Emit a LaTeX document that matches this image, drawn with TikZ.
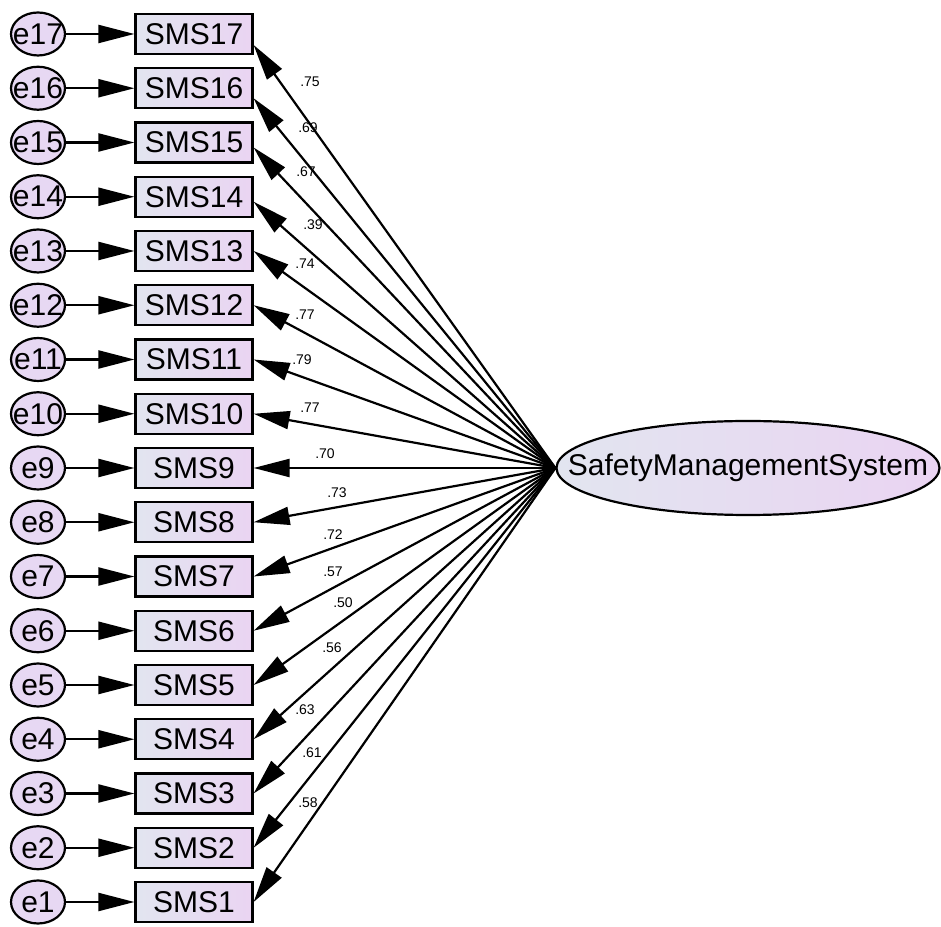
\documentclass[tikz,border=0pt]{standalone}
\usepackage{fontspec}
\setmainfont{Liberation Sans}
\usetikzlibrary{arrows.meta,shapes.geometric}
\definecolor{boxleft}{RGB}{226,229,240}
\definecolor{boxright}{RGB}{234,212,242}
\definecolor{errfill}{RGB}{231,216,243}
\begin{document}
\begin{tikzpicture}[x=0.5pt,y=0.5pt,
        obs/.style={draw, line width=1.1pt, left color=boxleft, right color=boxright,
            minimum width=58.5pt, minimum height=20pt, inner sep=0pt,
            font=\fontsize{15}{18}\selectfont},
        err/.style={draw, ellipse, line width=1.1pt, fill=errfill,
            minimum width=27pt, minimum height=21.5pt, inner sep=0pt,
            font=\fontsize{15}{18}\selectfont},
        arr/.style={line width=1.1pt, -{Triangle[length=18pt,width=9pt]}},
        lab/.style={font=\fontsize{7}{8}\selectfont, inner sep=0pt}]
        \useasboundingbox (0,0) rectangle (941,926);
        \node[draw, ellipse, line width=1.1pt, left color=boxleft, right color=boxright,
            minimum width=191.5pt, minimum height=47pt, inner sep=0pt,
            font=\fontsize{15}{18}\selectfont] (sms) at (748,458)
            {\makebox[0pt]{SafetyManagementSystem}};
        \node[err] (e17) at (38,892) {\makebox[0pt]{e17}};
        \node[obs] (s17) at (194,892) {SMS17};
        \draw[arr] (e17) -- (s17);
        \draw[arr] (sms.west) -- ([yshift=-5.5pt]s17.east);
        \node[lab] (l17) at (310,844) {.75};
        \node[err] (e16) at (38,837.75) {\makebox[0pt]{e16}};
        \node[obs] (s16) at (194,837.75) {SMS16};
        \draw[arr] (e16) -- (s16);
        \draw[arr] (sms.west) -- ([yshift=-5pt]s16.east);
        \node[lab] (l16) at (308,798) {.69};
        \node[err] (e15) at (38,783.5) {\makebox[0pt]{e15}};
        \node[obs] (s15) at (194,783.5) {SMS15};
        \draw[arr] (e15) -- (s15);
        \draw[arr] (sms.west) -- ([yshift=-2.5pt]s15.east);
        \node[lab] (l15) at (306,754) {.67};
        \node[err] (e14) at (38,729.25) {\makebox[0pt]{e14}};
        \node[obs] (s14) at (194,729.25) {SMS14};
        \draw[arr] (e14) -- (s14);
        \draw[arr] (sms.west) -- ([yshift=-2.5pt]s14.east);
        \node[lab] (l14) at (313,701) {.39};
        \node[err] (e13) at (38,675) {\makebox[0pt]{e13}};
        \node[obs] (s13) at (194,675) {SMS13};
        \draw[arr] (e13) -- (s13);
        \draw[arr] (sms.west) -- (s13.east);
        \node[lab] (l13) at (305,662) {.74};
        \node[err] (e12) at (38,620.75) {\makebox[0pt]{e12}};
        \node[obs] (s12) at (194,620.75) {SMS12};
        \draw[arr] (e12) -- (s12);
        \draw[arr] (sms.west) -- (s12.east);
        \node[lab] (l12) at (305,611) {.77};
        \node[err] (e11) at (38,566.5) {\makebox[0pt]{e11}};
        \node[obs] (s11) at (194,566.5) {SMS11};
        \draw[arr] (e11) -- (s11);
        \draw[arr] (sms.west) -- (s11.east);
        \node[lab] (l11) at (302,566) {.79};
        \node[err] (e10) at (38,512.25) {\makebox[0pt]{e10}};
        \node[obs] (s10) at (194,512.25) {SMS10};
        \draw[arr] (e10) -- (s10);
        \draw[arr] (sms.west) -- (s10.east);
        \node[lab] (l10) at (310,518) {.77};
        \node[err] (e9) at (38,458) {\makebox[0pt]{e9}};
        \node[obs] (s9) at (194,458) {SMS9};
        \draw[arr] (e9) -- (s9);
        \draw[arr] (sms.west) -- (s9.east);
        \node[lab] (l9) at (325,472) {.70};
        \node[err] (e8) at (38,403.75) {\makebox[0pt]{e8}};
        \node[obs] (s8) at (194,403.75) {SMS8};
        \draw[arr] (e8) -- (s8);
        \draw[arr] (sms.west) -- (s8.east);
        \node[lab] (l8) at (337,433) {.73};
        \node[err] (e7) at (38,349.5) {\makebox[0pt]{e7}};
        \node[obs] (s7) at (194,349.5) {SMS7};
        \draw[arr] (e7) -- (s7);
        \draw[arr] (sms.west) -- (s7.east);
        \node[lab] (l7) at (333,391) {.72};
        \node[err] (e6) at (38,295.25) {\makebox[0pt]{e6}};
        \node[obs] (s6) at (194,295.25) {SMS6};
        \draw[arr] (e6) -- (s6);
        \draw[arr] (sms.west) -- (s6.east);
        \node[lab] (l6) at (333,354) {.57};
        \node[err] (e5) at (38,241) {\makebox[0pt]{e5}};
        \node[obs] (s5) at (194,241) {SMS5};
        \draw[arr] (e5) -- (s5);
        \draw[arr] (sms.west) -- (s5.east);
        \node[lab] (l5) at (343,323) {.50};
        \node[err] (e4) at (38,186.75) {\makebox[0pt]{e4}};
        \node[obs] (s4) at (194,186.75) {SMS4};
        \draw[arr] (e4) -- (s4);
        \draw[arr] (sms.west) -- (s4.east);
        \node[lab] (l4) at (332,278) {.56};
        \node[err] (e3) at (38,132.5) {\makebox[0pt]{e3}};
        \node[obs] (s3) at (194,132.5) {SMS3};
        \draw[arr] (e3) -- (s3);
        \draw[arr] (sms.west) -- (s3.east);
        \node[lab] (l3) at (305,216) {.63};
        \node[err] (e2) at (38,78.25) {\makebox[0pt]{e2}};
        \node[obs] (s2) at (194,78.25) {SMS2};
        \draw[arr] (e2) -- (s2);
        \draw[arr] (sms.west) -- (s2.east);
        \node[lab] (l2) at (312,173) {.61};
        \node[err] (e1) at (38,24) {\makebox[0pt]{e1}};
        \node[obs] (s1) at (194,24) {SMS1};
        \draw[arr] (e1) -- (s1);
        \draw[arr] (sms.west) -- (s1.east);
        \node[lab] (l1) at (308,123) {.58};
    \end{tikzpicture}
\end{document}
